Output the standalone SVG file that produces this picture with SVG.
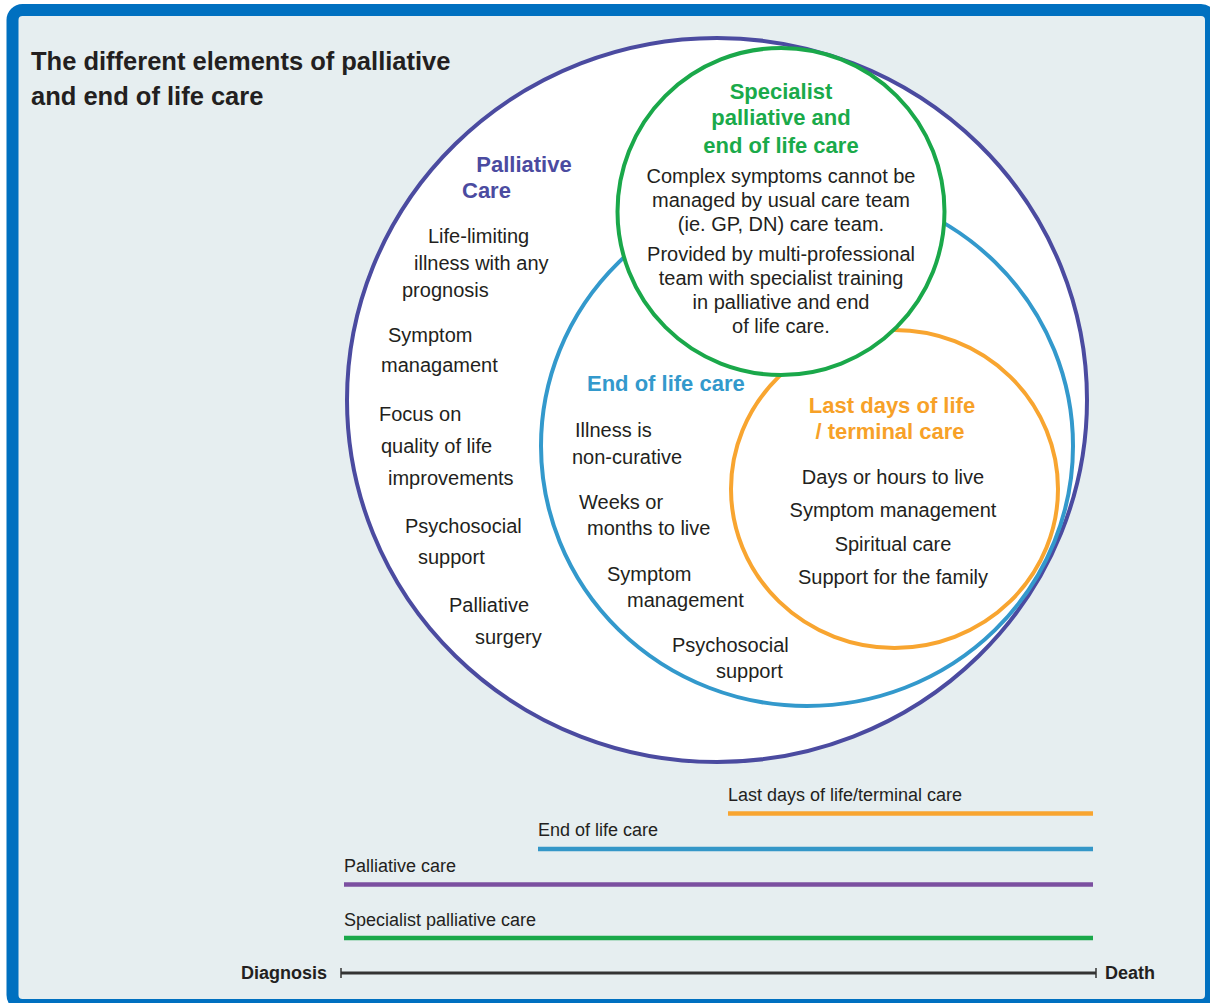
<svg xmlns="http://www.w3.org/2000/svg" width="1210" height="1003" viewBox="0 0 1210 1003">
<style>
text{font-family:"Liberation Sans",Arial,sans-serif;fill:#231F20}
.t{font-size:20px}
.h{font-size:22px;font-weight:bold}
.c{text-anchor:middle}
.tl{font-size:18px}
.pu{fill:#4B4BA0}.bl{fill:#3399CC}.gr{fill:#1AAA4A}.or{fill:#F7A128}
.ring{fill:#FFFFFF;stroke-width:4}
.bar{stroke-width:4.5;fill:none}
.ttl{font-size:25.5px;font-weight:bold}
</style>
<rect x="12.5" y="10" width="1198.5" height="995" rx="10" fill="#E6EEF0" stroke="#0070C0" stroke-width="12"/>
<text class="ttl" x="31" y="70">The different elements of palliative</text>
<text class="ttl" x="31" y="105">and end of life care</text>

<g id="palliative">
<ellipse class="ring" cx="717" cy="400" rx="370" ry="362" stroke="#4B4BA0"/>
<text class="h pu c" x="524" y="172">Palliative</text>
<text class="h pu" x="462" y="198">Care</text>
<text class="t" x="428" y="243">Life-limiting</text>
<text class="t" x="414" y="270">illness with any</text>
<text class="t" x="402" y="297">prognosis</text>
<text class="t" x="388" y="342">Symptom</text>
<text class="t" x="381" y="372">managament</text>
<text class="t" x="379" y="421">Focus on</text>
<text class="t" x="381" y="453">quality of life</text>
<text class="t" x="388" y="485">improvements</text>
<text class="t" x="405" y="533">Psychosocial</text>
<text class="t" x="418" y="564">support</text>
<text class="t" x="449" y="612">Palliative</text>
<text class="t" x="475" y="644">surgery</text>
</g>

<g id="endoflife">
<ellipse class="ring" cx="807" cy="446" rx="266" ry="260" stroke="#3399CC"/>
<text class="h bl" x="587" y="391">End of life care</text>
<text class="t" x="575" y="437">Illness is</text>
<text class="t" x="572" y="464">non-curative</text>
<text class="t" x="579" y="509">Weeks or</text>
<text class="t" x="587" y="535">months to live</text>
<text class="t" x="607" y="581">Symptom</text>
<text class="t" x="627" y="607">management</text>
<text class="t" x="672" y="652">Psychosocial</text>
<text class="t" x="716" y="678">support</text>
</g>

<g id="lastdays">
<ellipse class="ring" cx="894.5" cy="489" rx="163.5" ry="159" stroke="#F8A530"/>
<text class="h or c" x="892" y="413">Last days of life</text>
<text class="h or c" x="890" y="439">/ terminal care</text>
<text class="t c" x="893" y="484">Days or hours to live</text>
<text class="t c" x="893" y="517">Symptom management</text>
<text class="t c" x="893" y="551">Spiritual care</text>
<text class="t c" x="893" y="584">Support for the family</text>
</g>

<g id="specialist">
<circle class="ring" cx="781" cy="211.5" r="163.5" stroke="#1AA84A"/>
<text class="h gr c" x="781" y="99">Specialist</text>
<text class="h gr c" x="781" y="125">palliative and</text>
<text class="h gr c" x="781" y="153">end of life care</text>
<text class="t c" x="781" y="183">Complex symptoms cannot be</text>
<text class="t c" x="781" y="207">managed by usual care team</text>
<text class="t c" x="781" y="231">(ie. GP, DN) care team.</text>
<text class="t c" x="781" y="261">Provided by multi-professional</text>
<text class="t c" x="781" y="285">team with specialist training</text>
<text class="t c" x="781" y="309">in palliative and end</text>
<text class="t c" x="781" y="333">of life care.</text>
</g>

<g id="timeline">
<text class="tl" x="728" y="801">Last days of life/terminal care</text>
<line class="bar" x1="728" y1="813.5" x2="1093" y2="813.5" stroke="#F8A530"/>
<text class="tl" x="538" y="836">End of life care</text>
<line class="bar" x1="538" y1="849" x2="1093" y2="849" stroke="#3497C8"/>
<text class="tl" x="344" y="872">Palliative care</text>
<line class="bar" x1="344" y1="884.5" x2="1093" y2="884.5" stroke="#7B4FA0"/>
<text class="tl" x="344" y="926">Specialist palliative care</text>
<line class="bar" x1="344" y1="938" x2="1093" y2="938" stroke="#1AA84A"/>
<text x="241" y="979" style="font-size:18px;font-weight:bold">Diagnosis</text>
<text x="1105" y="979" style="font-size:18px;font-weight:bold">Death</text>
<g stroke="#333333" fill="none">
<line x1="341" y1="973" x2="1096" y2="973" stroke-width="3"/>
<line x1="341" y1="968" x2="341" y2="978" stroke-width="1.5"/>
<line x1="1096" y1="968" x2="1096" y2="978" stroke-width="1.5"/>
</g>
</g>
</svg>
